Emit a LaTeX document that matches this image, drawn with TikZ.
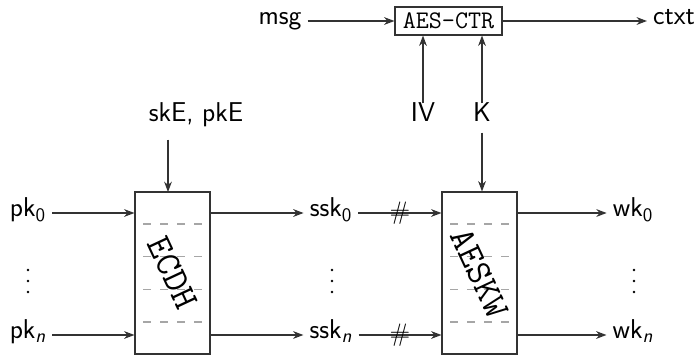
\documentclass[tikz,border=0pt]{standalone}
\usepackage{amsmath}
\usetikzlibrary{arrows.meta, calc}

\begin{document}
\begin{tikzpicture}[x=0.02cm, y=-0.02cm, >=Stealth,
    lbl/.style={font=\sffamily\fontsize{15.5}{18}\selectfont, text height=0.7em, text depth=0.25em},
    wire/.style={->, draw=black!80, line width=0.65pt},
    blk/.style={draw=black!80, line width=0.65pt, minimum width=1.5cm, minimum height=3.24cm, inner sep=0pt},
    sep/.style={draw=black!35, line width=0.65pt, dash pattern=on 0.16cm off 0.18cm, dash phase=0.16cm},
    rot/.style={rotate=-65, font=\huge\ttfamily}]
    \useasboundingbox (0,0) rectangle (700,355);
    % boxes
    \node[blk] (ecdh) at (172.5,273) {};
    \node[blk] (aeskw) at (479.5,273) {};
    \foreach \b in {ecdh, aeskw}
        \foreach \f in {0.2, 0.4, 0.6, 0.8}
            \draw[sep] ($(\b.north west)!\f!(\b.south west)$) -- ($(\b.north east)!\f!(\b.south east)$);
    \node[rot] at (ecdh) {ECDH};
    \node[rot] at (aeskw) {AESKW};
    \node[draw=black!80, line width=0.65pt, minimum width=2.14cm, minimum height=0.56cm, inner sep=0pt, font=\Large\ttfamily] (ctr) at (448.5,21) {AES-CTR};
    % labels
    \node[lbl] (msg) at (280,21) {msg};
    \node[lbl] (ctxt) at (674,21) {ctxt};
    \node[lbl] (iv) at (423,118) {IV};
    \node[lbl] (k) at (482,118) {K};
    \node[lbl] (skpk) at (196,118) {skE, pkE};
    \coordinate (ein) at (168,192);
    \node[lbl] (pk0) at (28,213) {pk\textsubscript{0}};
    \node[lbl] (pkn) at (28,335) {pk\textsubscript{\textit{n}}};
    \node[lbl] (ssk0) at (331,213) {ssk\textsubscript{0}};
    \node[lbl] (sskn) at (331,335) {ssk\textsubscript{\textit{n}}};
    \node[lbl] (wk0) at (633,213) {wk\textsubscript{0}};
    \node[lbl] (wkn) at (633,335) {wk\textsubscript{\textit{n}}};
    % vertical dots
    \foreach \x in {28, 332, 634}
        \foreach \y in {270, 281, 292}
            \fill (\x,\y) circle (1.4);
    % connectors
    \draw[wire] (msg) -- (ctr);
    \draw[wire] (ctr) -- (ctxt);
    \draw[wire] (iv) -- (iv |- ctr.south);
    \draw[wire] (k) -- (k |- ctr.south);
    \draw[wire] (k) -- (k |- aeskw.north);
    \draw[wire] ([yshift=-4pt]skpk.south -| ein) -- (ein);
    \foreach \i in {0, n} {
        \draw[wire] (pk\i) -- (pk\i -| ecdh.west);
        \draw[wire] (ssk\i -| ecdh.east) -- (ssk\i);
        \draw[wire] (ssk\i) -- node[font=\sffamily\Large] {\#} (ssk\i -| aeskw.west);
        \draw[wire] (wk\i -| aeskw.east) -- (wk\i);
    }
\end{tikzpicture}
\end{document}
